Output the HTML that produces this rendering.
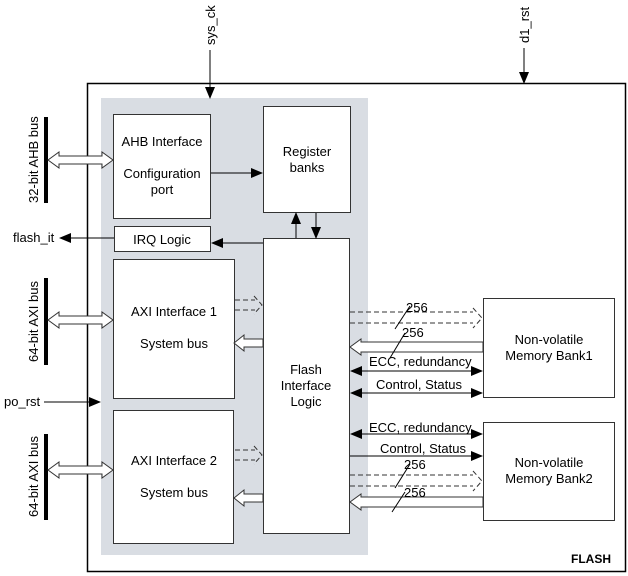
<!DOCTYPE html>
<html><head><style>
body{margin:0;background:#fff}
svg{display:block;font-family:"Liberation Sans",Arial,sans-serif;font-size:12px}
</style></head><body>
<svg width="628" height="576" viewBox="0 0 628 576" xmlns="http://www.w3.org/2000/svg">
<defs>
<marker id="a" markerWidth="12" markerHeight="10" refX="11" refY="5" orient="auto" markerUnits="userSpaceOnUse"><path d="M0,0 L12,5 L0,10 z" fill="#000"/></marker>
<marker id="b" markerWidth="12" markerHeight="10" refX="1" refY="5" orient="auto" markerUnits="userSpaceOnUse"><path d="M12,0 L0,5 L12,10 z" fill="#000"/></marker>
</defs>
<rect x="87.5" y="83.5" width="538" height="488" fill="#fff" stroke="#000" stroke-width="1.5"/>
<rect x="101" y="98" width="267" height="457" fill="#d9dde3"/>
<g fill="#fff" stroke="#333" stroke-width="1">
<rect x="113.5" y="114.5" width="97" height="104"/>
<rect x="263.5" y="106.5" width="87" height="106"/>
<rect x="114.5" y="226.5" width="96" height="25"/>
<rect x="113.5" y="259.5" width="121" height="139"/>
<rect x="113.5" y="410.5" width="120" height="133"/>
<rect x="263.5" y="238.5" width="86" height="295"/>
<rect x="483.5" y="298.5" width="131" height="99"/>
<rect x="483.5" y="422.5" width="131" height="98"/>
</g>
<g font-size="13" text-anchor="middle" fill="#000">
<text x="162" y="146">AHB Interface</text>
<text x="162" y="178">Configuration</text>
<text x="162" y="194">port</text>
<text x="307" y="156">Register</text>
<text x="307" y="172">banks</text>
<text x="162" y="244">IRQ Logic</text>
<text x="174" y="316">AXI Interface 1</text>
<text x="174" y="348">System bus</text>
<text x="174" y="465">AXI Interface 2</text>
<text x="174" y="497">System bus</text>
<text x="306" y="374">Flash</text>
<text x="306" y="390">Interface</text>
<text x="306" y="406">Logic</text>
<text x="549" y="344">Non-volatile</text>
<text x="549" y="360">Memory Bank1</text>
<text x="549" y="467">Non-volatile</text>
<text x="549" y="483">Memory Bank2</text>
</g>
<text x="611" y="563" font-weight="bold" text-anchor="end">FLASH</text>
<g stroke="#000" stroke-width="1" fill="none">
<line x1="210" y1="50" x2="210" y2="98" marker-end="url(#a)"/>
<line x1="524" y1="48" x2="524" y2="83" marker-end="url(#a)"/>
<line x1="114" y1="238" x2="60" y2="238" marker-end="url(#a)"/>
<line x1="44" y1="402" x2="100" y2="402" marker-end="url(#a)"/>
<line x1="211" y1="173" x2="262" y2="173" marker-end="url(#a)"/>
<line x1="263" y1="243" x2="212" y2="243" marker-end="url(#a)"/>
<line x1="296" y1="238" x2="296" y2="213" marker-end="url(#a)"/>
<line x1="316" y1="213" x2="316" y2="238" marker-end="url(#a)"/>
</g>
<g font-size="13" fill="#000">
<text transform="translate(215,45) rotate(-90)">sys_ck</text>
<text transform="translate(529,43) rotate(-90)">d1_rst</text>
<text transform="translate(38,203) rotate(-90)">32-bit AHB bus</text>
<text transform="translate(38,362) rotate(-90)">64-bit AXI bus</text>
<text transform="translate(38,517) rotate(-90)">64-bit AXI bus</text>
<text x="13" y="242">flash_it</text>
<text x="4" y="406">po_rst</text>
</g>
<g fill="#000"><rect x="44" y="117" width="4" height="86"/><rect x="44" y="278" width="4" height="87"/><rect x="44" y="434" width="4" height="86"/></g>
<g fill="#fff" stroke="#333" stroke-width="1">
<path d="M48,160 l11,-8 v4 h43 v-4 l11,8 l-11,8 v-4 h-43 v4 z"/>
<path d="M48,320 l11,-8 v4 h43 v-4 l11,8 l-11,8 v-4 h-43 v4 z"/>
<path d="M48,470 l11,-8 v4 h43 v-4 l11,8 l-11,8 v-4 h-43 v4 z"/>
<path d="M234,343 l10,-8 v4 h19 v8 h-19 v4 z"/>
<path d="M234,498 l10,-8 v4 h19 v8 h-19 v4 z"/>
<path d="M350,347 l11,-8 v3 h122 v10 h-122 v3 z"/>
<path d="M350,502 l11,-8 v3 h122 v10 h-122 v3 z"/>
</g>
<g fill="none" stroke="#333" stroke-width="1" stroke-dasharray="5,3">
<path d="M235,300 h20 M235,310 h20 M254,296 l8,9 l-8,9"/>
<path d="M235,450 h20 M235,460 h20 M254,446 l8,9 l-8,9"/>
<path d="M350,312 h123 M350,323 h123 M473,308 l9,10 l-9,10"/>
<path d="M350,475 h123 M350,486 h123 M473,471 l9,10 l-9,10"/>
</g>
<g stroke="#000" stroke-width="1">
<line x1="351" y1="371" x2="482" y2="371" marker-start="url(#b)" marker-end="url(#a)"/>
<line x1="351" y1="393" x2="482" y2="393" marker-start="url(#b)" marker-end="url(#a)"/>
<line x1="351" y1="434" x2="482" y2="434" marker-start="url(#b)" marker-end="url(#a)"/>
<line x1="350" y1="456" x2="482" y2="456" marker-end="url(#a)"/>
<line x1="395" y1="329" x2="410" y2="306"/>
<line x1="390" y1="358" x2="405" y2="333"/>
<line x1="395" y1="488" x2="410" y2="464"/>
<line x1="392" y1="512" x2="405" y2="492"/>
</g>
<g font-size="13" fill="#000">
<text x="406" y="312">256</text>
<text x="402" y="337">256</text>
<text x="369" y="366">ECC, redundancy</text>
<text x="376" y="389">Control, Status</text>
<text x="369" y="432">ECC, redundancy</text>
<text x="380" y="453">Control, Status</text>
<text x="404" y="469">256</text>
<text x="404" y="497">256</text>
</g>
</svg>
</body></html>
